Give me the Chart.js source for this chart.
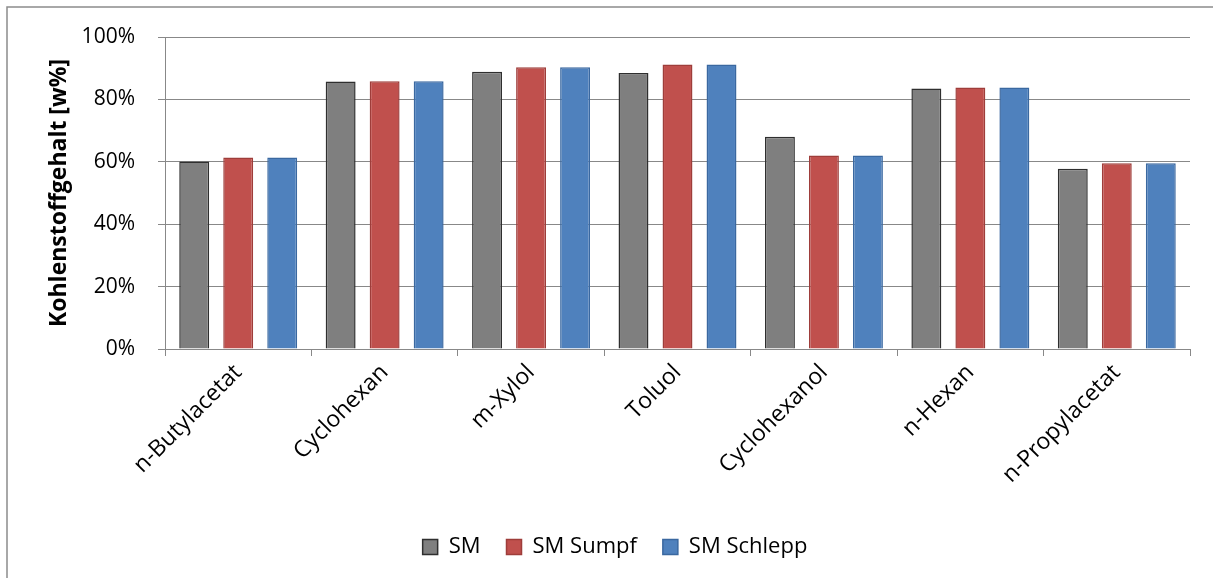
<!DOCTYPE html>
<html>
<head>
<meta charset="utf-8">
<script src="https://cdn.jsdelivr.net/npm/chart.js@4/dist/chart.umd.min.js"></script>
<style>
  html, body { margin: 0; padding: 0; background: #ffffff; }
  #wrap { width: 1213px; height: 578px; }
</style>
</head>
<body>
<div id="wrap"><canvas id="chart" width="1213" height="578"></canvas></div>
<script>
// Kohlenstoffgehalt je Lösungsmittel (Massenanteil in %)
const categories = ['n-Butylacetat', 'Cyclohexan', 'm-Xylol', 'Toluol', 'Cyclohexanol', 'n-Hexan', 'n-Propylacetat'];
const smValues = [60.1, 85.7, 88.9, 88.5, 68.0, 83.5, 57.8];
const sumpfValues = [61.4, 85.8, 90.3, 91.2, 62.0, 83.8, 59.5];
const schleppValues = [61.4, 85.8, 90.3, 91.2, 62.0, 83.8, 59.5];
const seriesNames = ['SM', 'SM Sumpf', 'SM Schlepp'];
const yTickValues = [0, 20, 40, 60, 80, 100];

const FONT = '"Open Sans", "Liberation Sans", sans-serif';
const GRID = '#888888';
const PAD_BOTTOM = 10;
const PLOT_BOTTOM = 349;

// White background and the thin grey frame round the chart
const framePlugin = {
  id: 'frame',
  beforeDraw(chart) {
    const ctx = chart.ctx;
    ctx.save();
    ctx.fillStyle = '#ffffff';
    ctx.fillRect(0, 0, chart.width, chart.height);
    ctx.strokeStyle = '#8c8c8c';
    ctx.lineWidth = 1.5;
    ctx.strokeRect(7, 7, chart.width + 50, chart.height + 50);
    ctx.restore();
  }
};

const barShape = { barPercentage: 0.68, categoryPercentage: 0.9016, borderWidth: 1.5 };

new Chart(document.getElementById('chart'), {
  type: 'bar',
  data: {
    labels: categories,
    datasets: [
      { label: seriesNames[0], data: smValues, backgroundColor: '#7f7f7f', borderColor: '#2f2f2f', ...barShape },
      { label: seriesNames[1], data: sumpfValues, backgroundColor: '#c0504d', borderColor: '#9e3d3a', ...barShape },
      { label: seriesNames[2], data: schleppValues, backgroundColor: '#4f81bd', borderColor: '#3a68a0', ...barShape }
    ]
  },
  options: {
    responsive: false,
    devicePixelRatio: 1,
    animation: false,
    layout: { padding: { left: 40, right: 23, top: 37, bottom: PAD_BOTTOM } },
    plugins: {
      tooltip: { enabled: false },
      legend: {
        position: 'bottom',
        labels: {
          boxWidth: 15,
          boxHeight: 15,
          padding: 26,
          color: '#000000',
          font: { family: FONT, size: 22 }
        }
      }
    },
    scales: {
      x: {
        grid: { drawOnChartArea: false, drawTicks: true, tickLength: 7, color: GRID, offset: true },
        border: { color: GRID, width: 1 },
        ticks: {
          maxRotation: 45, minRotation: 45, padding: 3, autoSkip: false,
          color: '#000000', font: { family: FONT, size: 23 }
        },
        afterFit(scale) {
          const lg = scale.chart.legend;
          scale.height = 578 - PAD_BOTTOM - (lg ? lg.height : 0) - PLOT_BOTTOM;
        }
      },
      y: {
        min: 0, max: 100,
        afterBuildTicks(scale) { scale.ticks = yTickValues.map(v => ({ value: v })); },
        grid: { color: GRID, lineWidth: 1, tickLength: 7 },
        border: { color: GRID, width: 1 },
        ticks: {
          padding: 23, color: '#000000', font: { family: FONT, size: 21 },
          callback: v => v + '%'
        },
        title: {
          display: true,
          text: 'Kohlenstoffgehalt [w%]',
          color: '#000000',
          font: { family: FONT, size: 23, weight: 'bold' },
          padding: { top: 6, bottom: 0 }
        },
        afterFit(scale) { scale.width = 125; }
      }
    }
  },
  plugins: [framePlugin]
});
</script>
</body>
</html>
